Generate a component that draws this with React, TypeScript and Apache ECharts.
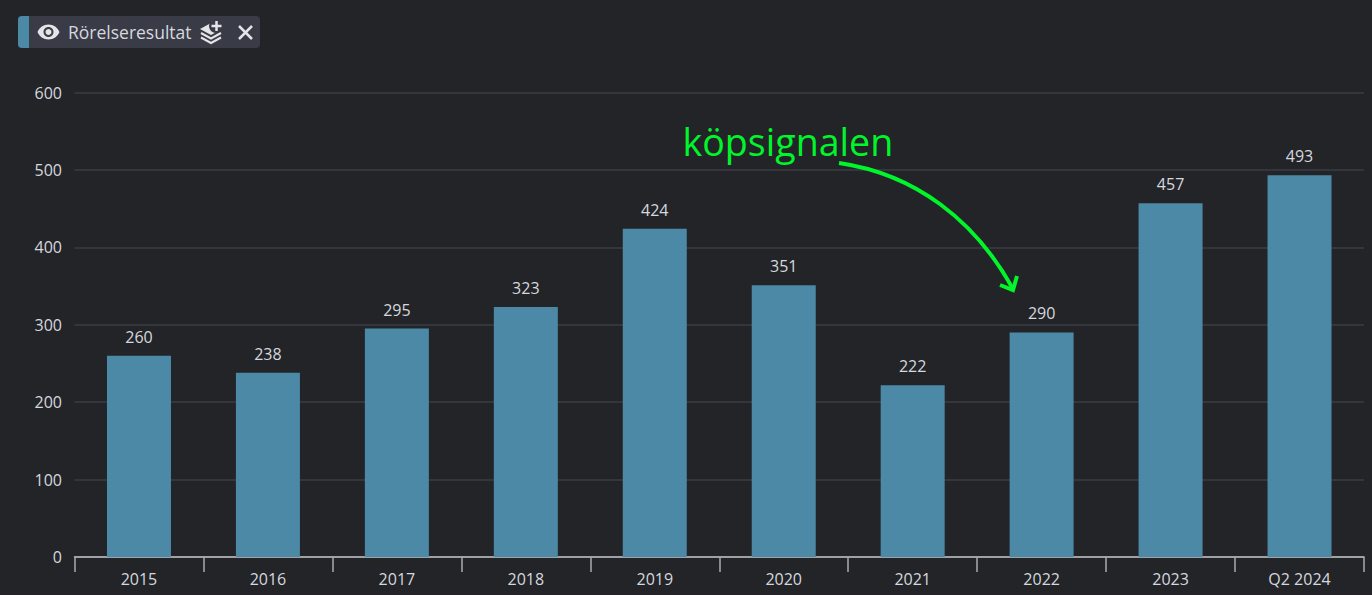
import { useEffect, useRef } from 'react'
import * as echarts from 'echarts'

const categories = ['2015', '2016', '2017', '2018', '2019', '2020', '2021', '2022', '2023', 'Q2 2024']
const rorelseresultat = [260, 238, 295, 323, 424, 351, 222, 290, 457, 493]
const yTicks = { min: 0, max: 600, interval: 100 }

const seriesName = 'Rörelseresultat'
const annotation = 'köpsignalen'

const FONT = '"Open Sans", "Noto Sans", sans-serif'
const BG = '#222428'
const CHIP = '#393b47'
const BAR = '#4b89a7'
const GRID = '#34363e'
const TEXT = '#d6d8de'
const ICON = '#e4e5e8'
const GREEN = '#00f52a'

// material style eye, 24x24 box
echarts.graphic.registerShape(
  'eyeIcon',
  echarts.graphic.extendPath(
    'M12 4.5C7 4.5 2.73 7.61 1 12c1.73 4.39 6 7.5 11 7.5s9.27-3.11 11-7.5c-1.73-4.39-6-7.5-11-7.5zM12 17c-2.76 0-5-2.24-5-5s2.24-5 5-5 5 2.24 5 5-2.24 5-5 5zm0-8c-1.66 0-3 1.34-3 3s1.34 3 3 3 3-1.34 3-3-1.34-3-3-3z',
    {},
  ),
)

export default function App() {
  const chartRef = useRef<HTMLDivElement>(null)

  useEffect(() => {
    if (!chartRef.current) return
    const chart = echarts.init(chartRef.current, null, { renderer: 'svg' })

    chart.setOption({
      animation: false,
      backgroundColor: BG,
      textStyle: { fontFamily: FONT },
      grid: { left: 74.5, right: 8, top: 92.5, bottom: 38, containLabel: false },
      xAxis: {
        type: 'category',
        data: categories,
        axisLine: { lineStyle: { color: '#c4c6ca', width: 1.5 } },
        axisTick: { show: true, length: 15, alignWithLabel: false, lineStyle: { color: '#a9abb0', width: 1.5 } },
        axisLabel: { color: TEXT, fontSize: 16, fontFamily: FONT, margin: 14 },
      },
      yAxis: {
        type: 'value',
        ...yTicks,
        axisLine: { show: false },
        axisTick: { show: false },
        axisLabel: { color: TEXT, fontSize: 16, fontFamily: FONT, margin: 12.5 },
        splitLine: { lineStyle: { color: GRID, width: 2 } },
      },
      series: [
        {
          name: seriesName,
          type: 'bar',
          data: rorelseresultat,
          barWidth: 64,
          itemStyle: { color: BAR },
          label: { show: true, position: 'top', distance: 11, color: TEXT, fontSize: 16, fontFamily: FONT },
        },
      ],
      graphic: [
        // legend chip
        { type: 'rect', shape: { x: 18, y: 16, width: 242, height: 32, r: 4 }, style: { fill: CHIP } },
        { type: 'rect', shape: { x: 18, y: 16, width: 11, height: 32, r: [4, 0, 0, 4] }, style: { fill: BAR } },
        { type: 'eyeIcon', x: 36.5, y: 20, scaleX: 1, scaleY: 1, style: { fill: ICON } },
        { type: 'text', x: 68, y: 32, style: { text: seriesName, fill: TEXT, font: `17.5px ${FONT}`, verticalAlign: 'middle' } },
        // stack icon
        { type: 'polygon', shape: { points: [[200, 29], [211, 23], [222, 29], [211, 35]] }, style: { fill: ICON } },
        { type: 'polyline', shape: { points: [[201, 33], [211, 38.5], [221, 33]] }, style: { stroke: ICON, lineWidth: 2, fill: 'none' } },
        { type: 'polyline', shape: { points: [[201, 37.5], [211, 43], [221, 37.5]] }, style: { stroke: ICON, lineWidth: 2, fill: 'none' } },
        { type: 'circle', shape: { cx: 216, cy: 26, r: 7 }, style: { fill: CHIP } },
        { type: 'line', shape: { x1: 216.5, y1: 21, x2: 216.5, y2: 31 }, style: { stroke: ICON, lineWidth: 2.5 } },
        { type: 'line', shape: { x1: 211.5, y1: 26, x2: 221.5, y2: 26 }, style: { stroke: ICON, lineWidth: 2.5 } },
        // close
        { type: 'line', shape: { x1: 239, y1: 26, x2: 252, y2: 39 }, style: { stroke: ICON, lineWidth: 2.5 } },
        { type: 'line', shape: { x1: 252, y1: 26, x2: 239, y2: 39 }, style: { stroke: ICON, lineWidth: 2.5 } },
        // annotation, has to sit above the split lines
        { type: 'text', z: 10, x: 682.5, y: 141.5, style: { text: annotation, fill: GREEN, font: `37.6px ${FONT}`, verticalAlign: 'middle' } },
        {
          type: 'bezierCurve',
          z: 10,
          shape: { x1: 839, y1: 163, cpx1: 915, cpy1: 174, cpx2: 975, cpy2: 220, x2: 1013, y2: 289 },
          style: { stroke: GREEN, lineWidth: 4, fill: 'none' },
        },
        { type: 'polyline', z: 10, shape: { points: [[1000, 285], [1013, 290], [1017, 276]] }, style: { stroke: GREEN, lineWidth: 4, fill: 'none' } },
      ],
    })

    return () => chart.dispose()
  }, [])

  return <div ref={chartRef} style={{ position: 'fixed', left: 0, top: 0, width: 1372, height: 595 }} />
}
